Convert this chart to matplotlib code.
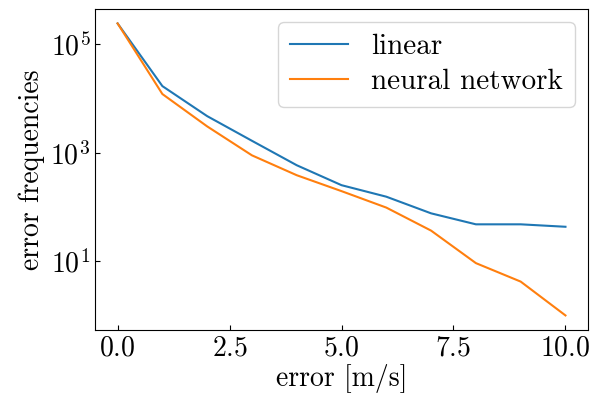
import matplotlib
matplotlib.use("Agg")
import matplotlib.pyplot as plt
from matplotlib.ticker import NullLocator

plt.rcParams.update({
    "font.family": "serif",
    "font.serif": ["cmr10"],
    "mathtext.fontset": "cm",
    "axes.formatter.use_mathtext": True,
    "font.size": 20,
    "xtick.direction": "in",
    "ytick.direction": "in",
})

# error bins [m/s] and counts per bin
error = [0, 1, 2, 3, 4, 5, 6, 7, 8, 9, 10]
freq_linear = [2.4e5, 1.68e4, 4700, 1650, 585, 251, 154, 76, 47.7, 47.7, 43]
freq_nn = [2.4e5, 1.2e4, 3040, 890, 383, 195, 97, 36.5, 9.2, 4.2, 1.0]
xticks = [0.0, 2.5, 5.0, 7.5, 10.0]
yticks = [1e1, 1e3, 1e5]

fig = plt.figure(figsize=(5.95, 4.01), dpi=100)
ax = fig.add_axes([0.160, 0.177, 0.828, 0.801])
ax.plot(error, freq_linear, label="linear", color="#1f77b4", linewidth=1.5)
ax.plot(error, freq_nn, label="neural network", color="#ff7f0e", linewidth=1.5)
ax.set_yscale("log")
ax.set_yticks(yticks)
ax.yaxis.set_minor_locator(NullLocator())
ax.set_xticks(xticks)
ax.set_xlabel("error [m/s]", labelpad=2)
ax.set_ylabel("error frequencies")
ax.legend(loc="upper right", fontsize=21, labelspacing=0.3,
          borderaxespad=0.45)

fig.savefig("out.png", dpi=100)
